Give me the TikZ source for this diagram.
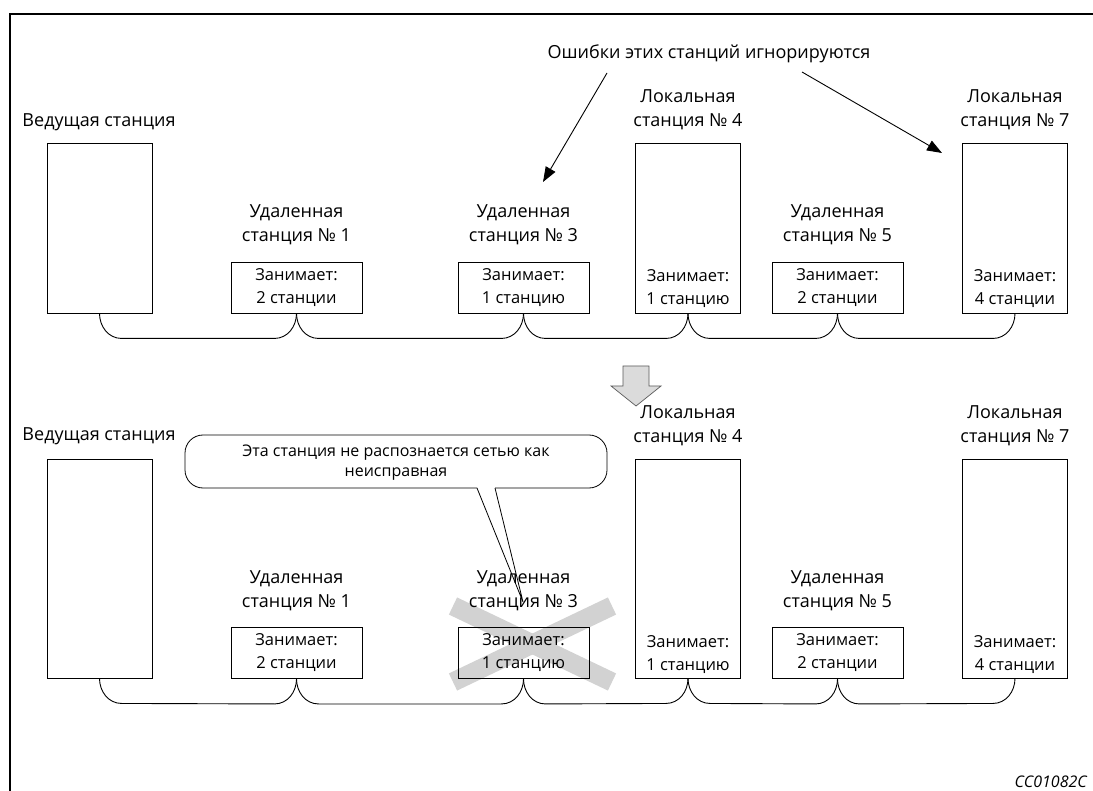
\documentclass[tikz,border=0pt]{standalone}
\usepackage{fontspec}
\setmainfont{Open Sans}
\usetikzlibrary{arrows.meta,calc}
\begin{document}
\begin{tikzpicture}[x=1pt,y=-1pt,
  lbl/.style={font=\fontsize{18}{24}\selectfont, align=center, inner sep=0},
  small/.style={font=\fontsize{16.5}{23}\selectfont, align=center, inner sep=0},
  stbox/.style={draw, line width=0.9pt, inner sep=0},
  rbox/.style={stbox, minimum width=131, minimum height=51, small},
  lbox/.style={stbox, minimum width=105, minimum height=170},
  lboxb/.style={stbox, minimum width=105, minimum height=219},
  bus/.style={line width=0.9pt},
  callarrow/.style={line width=0.9pt, -{Triangle[length=15pt,width=11pt]}},
  thin/.style={line width=0.8pt}
]
\useasboundingbox (0,0) rectangle (1093,791);
% frame
\draw[line width=1.2pt] (10,791) -- (10,14) -- (1093,14);

% ===== top section =====
\node[lbl] (mlt) at (99,122) {Ведущая станция};
\node[lbox] (mt) at (99.5,228) {};
\node[lbl] (r1lt) at (296.5,225) {Удаленная\\станция № 1};
\node[rbox] (r1t) at (296.5,287.5) {Занимает:\\2 станции};
\node[lbl] (r3lt) at (523.5,225) {Удаленная\\станция № 3};
\node[rbox] (r3t) at (523.5,287.5) {Занимает:\\1 станцию};
\node[lbl] (l4lt) at (688,110) {Локальная\\станция № 4};
\node[lbox] (l4t) at (688,228) {};
\node[small] (l4xt) at (688,288.5) {Занимает:\\1 станцию};
\node[lbl] (r5lt) at (837.5,225) {Удаленная\\станция № 5};
\node[rbox] (r5t) at (837.5,287.5) {Занимает:\\2 станции};
\node[lbl] (l7lt) at (1015,110) {Локальная\\станция № 7};
\node[lbox] (l7t) at (1015,228) {};
\node[small] (l7xt) at (1015,288.5) {Занимает:\\4 станции};

\foreach \a/\b in {mt/r1t, r1t/r3t, r3t/l4t, l4t/r5t, r5t/l7t}{
  \draw[bus] (\a.south) to[out=-90,in=180] ($(\a.south)+(22,25)$)
     -- ($(\b.south)+(-22,25)$) to[out=0,in=-90] (\b.south);
}

\node[lbl] (note) at (709,54) {Ошибки этих станций игнорируются};
\coordinate (n1s) at (607,73);
\coordinate (n1e) at (543,182);
\coordinate (n2s) at (802,72);
\coordinate (n2e) at (942,153);
\draw[callarrow] (n1s) -- (n1e);
\draw[callarrow] (n2s) -- (n2e);

% gray down arrow
\draw[fill=gray!28, draw=gray!70!black, line width=0.7pt]
  (623,366) -- (649,366) -- (649,386) -- (661,386) -- (636,406) -- (611,386) -- (623,386) -- cycle;

% ===== bottom section =====
\draw[line width=19pt, gray!35] (453,606) -- (612,682);
\draw[line width=19pt, gray!35] (612,606) -- (453,682);

\node[lbl] (mlb) at (99,436) {Ведущая станция};
\node[lboxb] (mb) at (99.5,568.5) {};
\node[lbl] (r1lb) at (296.5,591) {Удаленная\\станция № 1};
\node[rbox] (r1b) at (296.5,653) {Занимает:\\2 станции};
\node[lbl] (r3lb) at (523.5,591) {Удаленная\\станция № 3};
\node[rbox] (r3b) at (523.5,653) {Занимает:\\1 станцию};
\node[lbl] (l4lb) at (688,426) {Локальная\\станция № 4};
\node[lboxb] (l4b) at (688,568.5) {};
\node[small] (l4xb) at (688,654.5) {Занимает:\\1 станцию};
\node[lbl] (r5lb) at (837.5,591) {Удаленная\\станция № 5};
\node[rbox] (r5b) at (837.5,653) {Занимает:\\2 станции};
\node[lbl] (l7lb) at (1015,426) {Локальная\\станция № 7};
\node[lboxb] (l7b) at (1015,568.5) {};
\node[small] (l7xb) at (1015,654.5) {Занимает:\\4 станции};

\foreach \a/\b in {mb/r1b, r1b/r3b, r3b/l4b, l4b/r5b, r5b/l7b}{
  \draw[bus] (\a.south) to[out=-90,in=180] ($(\a.south)+(22,25)$)
     -- ($(\b.south)+(-22,25)$) to[out=0,in=-90] (\b.south);
}

% callout
\coordinate (cpl) at (477,488);
\coordinate (cpr) at (495,488);
\coordinate (ctip) at (523,602);
\draw[thin, rounded corners=18] (cpl) -- (185,488) -- (185,435) -- (607,435) -- (607,488) -- (cpr);
\draw[thin] (cpl) -- (ctip) -- (cpr);
\node[font=\fontsize{16}{20}\selectfont, align=center, inner sep=0] (ctext) at (396,463)
  {Эта станция не распознается сетью как\\неисправная};

\node[font=\itshape\fontsize{16}{18}\selectfont, anchor=east, inner sep=0] (code) at (1087,782) {CC01082C};
\end{tikzpicture}
\end{document}
